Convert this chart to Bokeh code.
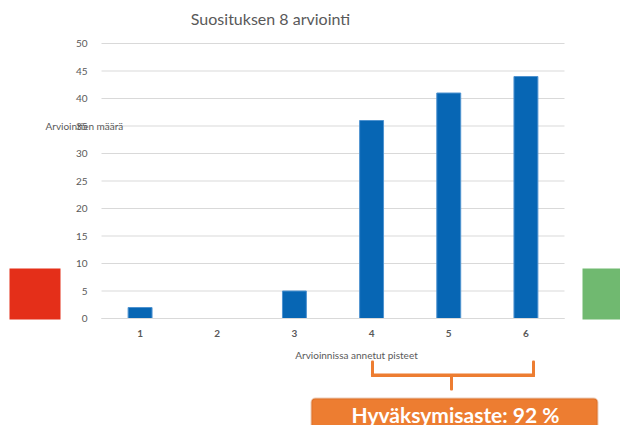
from bokeh.plotting import figure
from bokeh.models import (Range1d, FixedTicker, Label, BoxAnnotation, LinearAxis)
from bokeh.embed import file_html
from bokeh.resources import INLINE

# ---- data ----
categories = [1, 2, 3, 4, 5, 6]
counts = [2, 0, 5, 36, 41, 44]
y_ticks = [0, 5, 10, 15, 20, 25, 30, 35, 40, 45, 50]
title_text = "Suosituksen 8 arviointi"
y_label = "Arviointien määrä"
x_label = "Arvioinnissa annetut pisteet"
badge_text = "Hyväksymisaste: 92 %"

FONT = "Lato"
GREY = "#595959"

W, H = 620, 425
# plot area in canvas pixels (from the reference)
F_L, F_R, F_T, F_B = 101, 564, 43, 318
px_x = (F_R - F_L) / 6.0          # pixels per category
px_y = (F_B - F_T) / 50.0         # pixels per count
x0 = 0.5 - F_L / px_x
x1 = 6.5 + (W - F_R) / px_x
y0 = -(H - F_B) / px_y
y1 = 50 + F_T / px_y

p = figure(width=W, height=H, x_range=Range1d(x0, x1), y_range=Range1d(y0, y1),
           output_backend="svg", toolbar_location=None,
           x_axis_type=None, y_axis_type=None,
           min_border=0)
p.outline_line_color = None
p.xgrid.visible = False
p.ygrid.visible = False

# grid lines (drawn from the tick list)
p.segment(x0=[0.5] * len(y_ticks), x1=[6.5] * len(y_ticks), y0=y_ticks, y1=y_ticks,
          line_color="#D9D9D9", line_width=1)

p.vbar(x=categories, top=counts, width=0.31, fill_color="#0766B4",
       line_color="#4F93D0", line_width=1)

# axes placed at fixed locations inside the canvas
yax = LinearAxis(ticker=FixedTicker(ticks=y_ticks), fixed_location=0.5,
                 bounds=(0, 50))
yax.axis_line_color = None
yax.major_tick_line_color = None
yax.minor_tick_line_color = None
yax.major_label_text_font = FONT
yax.major_label_text_font_size = "10px"
yax.major_label_text_color = GREY
yax.major_label_standoff = 8
p.add_layout(yax, "left")

xax = LinearAxis(ticker=FixedTicker(ticks=categories), fixed_location=0,
                 bounds=(0.5, 6.5))
xax.axis_line_color = "#D9D9D9"
xax.major_tick_line_color = None
xax.minor_tick_line_color = None
xax.major_label_text_font = FONT
xax.major_label_text_font_size = "10px"
xax.major_label_text_font_style = "bold"
xax.major_label_text_color = GREY
xax.major_label_standoff = 5
p.add_layout(xax, "below")

# texts
p.add_layout(Label(x=270, y=18, x_units="canvas", y_units="canvas", text=title_text,
                   text_font=FONT, text_font_size="16px", text_color=GREY,
                   text_align="center", text_baseline="middle"))
p.add_layout(Label(x=45, y=125, x_units="canvas", y_units="canvas", text=y_label,
                   text_font=FONT, text_font_size="10px", text_color=GREY,
                   text_align="left", text_baseline="middle"))
p.add_layout(Label(x=356, y=354, x_units="canvas", y_units="canvas", text=x_label,
                   text_font=FONT, text_font_size="10px", text_color=GREY,
                   text_align="center", text_baseline="middle"))

def box(l, r, t, b, **kw):
    return BoxAnnotation(left=l, right=r, top=t, bottom=b,
                         left_units="canvas", right_units="canvas",
                         top_units="canvas", bottom_units="canvas", **kw)

# side squares
p.add_layout(box(9, 60, 268, 319, fill_color="#E42F19", fill_alpha=1, line_color=None))
p.add_layout(box(582, 620, 268, 319, fill_color="#70B970", fill_alpha=1, line_color=None))

# bracket
OR = "#ED7D31"
for (l, r, t, b) in [(370.5, 373.5, 360, 376.5), (370.5, 534.5, 373, 376.5),
                     (531.5, 534.5, 360, 376.5), (449.5, 452.5, 374, 390)]:
    p.add_layout(box(l, r, t, b, fill_color=OR, fill_alpha=1, line_color=None,
                     border_radius=1))

# badge
p.add_layout(box(311, 597, 398, 440, fill_color=OR, fill_alpha=1, line_color="#C05A18",
                 line_width=2, border_radius=4))
p.add_layout(Label(x=455, y=414, x_units="canvas", y_units="canvas", text=badge_text,
                   text_font=FONT, text_font_size="21px", text_font_style="bold",
                   text_color="white", text_align="center", text_baseline="middle"))

open("out.html", "w").write(file_html(p, INLINE))
